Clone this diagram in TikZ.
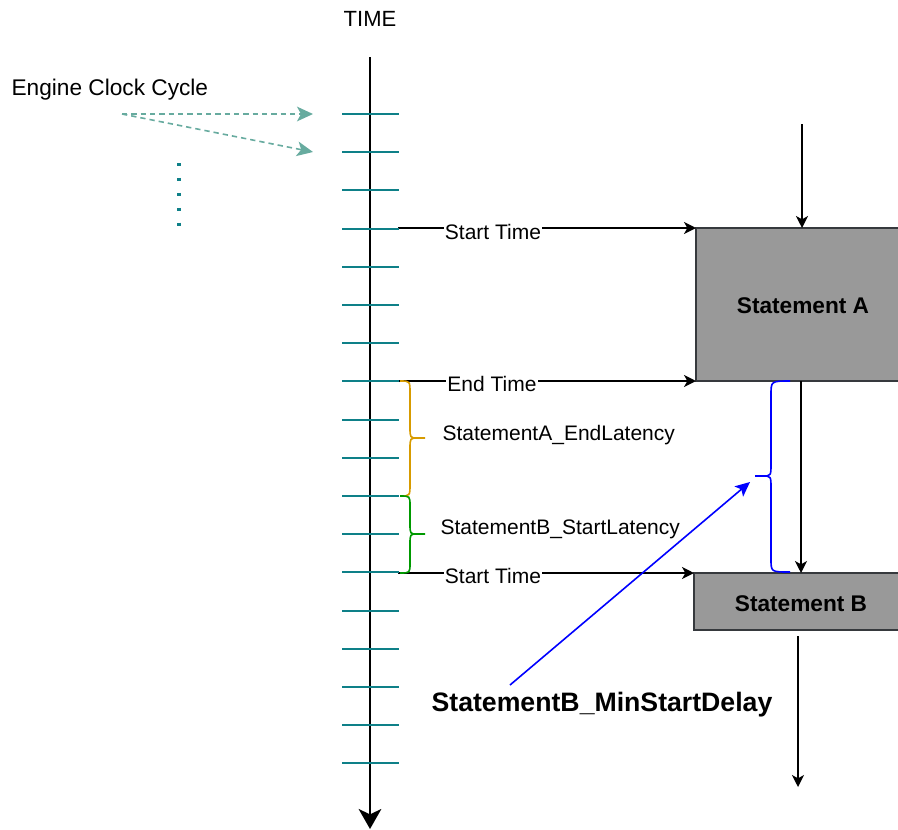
\documentclass[tikz,border=0pt]{standalone}
\usepackage{fontspec}
\setmainfont{Liberation Sans}
\usetikzlibrary{arrows.meta}
\definecolor{tickc}{HTML}{0E8088}
\definecolor{dashc}{HTML}{67AB9F}
\definecolor{boxfill}{HTML}{999999}
\definecolor{boxline}{HTML}{36393D}
\definecolor{orangec}{HTML}{D79B00}
\definecolor{greenc}{HTML}{009900}
\definecolor{bluec}{HTML}{0000FF}
\tikzset{
  x=0.75pt, y=-0.75pt,
  lbl/.style={font=\fontsize{15.75}{18}\selectfont, inner sep=1pt},
  bl/.style={font=\fontsize{15.75}{18}\selectfont, inner sep=1pt, fill=white},
  boldlbl/.style={font=\bfseries\fontsize{17}{20}\selectfont},
  tickline/.style={tickc, line width=1.4pt},
  blk/.style={black, line width=1.1pt, -{Stealth[inset=2.5pt,length=9pt,width=9pt]}},
  dasharrow/.style={dashc, line width=1.2pt, dash pattern=on 4pt off 3pt, -{Stealth[inset=3pt,length=12pt,width=11pt]}},
  brace/.style={line width=1.2pt, line join=round}
}
\begin{document}
\begin{tikzpicture}
\useasboundingbox (0,0) rectangle (898,829);

% TIME axis
\node[lbl, font=\fontsize{16.5}{19}\selectfont] (time) at (370,19) {TIME};
\coordinate (axtop) at (370,57);
\coordinate (axbot) at (370,829);
\draw[black, line width=1.4pt, -{Stealth[inset=4pt,length=15pt,width=17pt]}] (axtop) -- (axbot);

% Boxes
\fill[boxfill] (696,228) rectangle (898,381);
\draw[boxline, line width=1.1pt] (898,228) -- (696,228) -- (696,381) -- (898,381);
\node[boldlbl] (sa) at (803,306) {Statement A};
\coordinate (saTop) at (802,228);
\coordinate (saBot) at (801,381);
\coordinate (saL1) at (696,228);
\coordinate (saL2) at (696,381);

\fill[boxfill] (694,573) rectangle (898,630);
\draw[boxline, line width=1.1pt] (898,573) -- (694,573) -- (694,630) -- (898,630);
\node[boldlbl] (sb) at (801,604) {Statement B};
\coordinate (sbTop) at (801,573);
\coordinate (sbL) at (694,573);

% vertical flow arrows
\coordinate (inA) at (802,124);
\coordinate (outB1) at (798,636);
\coordinate (outB2) at (798,787);
\draw[blk] (inA) -- (saTop);
\draw[blk] (saBot) -- (sbTop);
\draw[blk] (outB1) -- (outB2);

% Start/End time arrows
\coordinate (t1) at (398,228);
\coordinate (t2) at (398,381);
\coordinate (t3) at (398,573);
\draw[blk] (t1) -- (saL1);
\draw[blk] (t2) -- (saL2);
\draw[blk] (t3) -- (sbL);
\node[bl] (st1) at (493,232) {Start Time};
\node[bl] (et) at (492,384) {End Time};
\node[bl] (st2) at (493,576) {Start Time};

% ticks
\foreach \k in {0,...,17}{
  \draw[tickline] (342,{114+38.2*\k}) -- (399,{114+38.2*\k});
}

% Engine clock cycle
\node[lbl, anchor=west, font=\fontsize{17}{20}\selectfont] (ecc) at (10,90) {Engine Clock Cycle};
\coordinate (ecs) at (122,114);
\coordinate (ece1) at (313,114);
\coordinate (ece2) at (313,152);
\draw[dasharrow] (ecs) -- (ece1);
\draw[dasharrow] (ecs) -- (ece2);
\draw[tickc, line width=2.6pt, dash pattern=on 2.6pt off 8.6pt] (179,163) -- (179,230);

% Orange brace
\draw[orangec, brace] (400,381) .. controls (410,381) .. (410,393) -- (410,427)
  .. controls (410,438) .. (418,438) -- (425,438);
\draw[orangec, brace] (418,438) .. controls (410,438) .. (410,449) -- (410,484)
  .. controls (410,496) .. (400,496);
\node[lbl, anchor=west] (ael) at (441,435) {StatementA\_EndLatency};

% Green brace
\draw[greenc, brace] (400,496) .. controls (410,496) .. (410,506) -- (410,524)
  .. controls (410,534) .. (418,534) -- (425,534);
\draw[greenc, brace] (418,534) .. controls (410,534) .. (410,544) -- (410,563)
  .. controls (410,573) .. (400,573);
\node[lbl, anchor=west] (bsl) at (439,529) {StatementB\_StartLatency};

% Blue brace
\draw[bluec, brace] (790,381) .. controls (771,381) .. (771,395) -- (771,464)
  .. controls (771,476) .. (762,476) -- (755,476);
\draw[bluec, brace] (762,476) .. controls (771,476) .. (771,488) -- (771,559)
  .. controls (771,572) .. (790,572);

% Min start delay
\node[font=\bfseries\fontsize{20}{24}\selectfont] (msd) at (602,705) {StatementB\_MinStartDelay};
\coordinate (bs) at (510,685);
\coordinate (be) at (750,482);
\draw[bluec, line width=1.2pt, -{Stealth[inset=2.5pt,length=11pt,width=10pt]}] (bs) -- (be);
\end{tikzpicture}
\end{document}
